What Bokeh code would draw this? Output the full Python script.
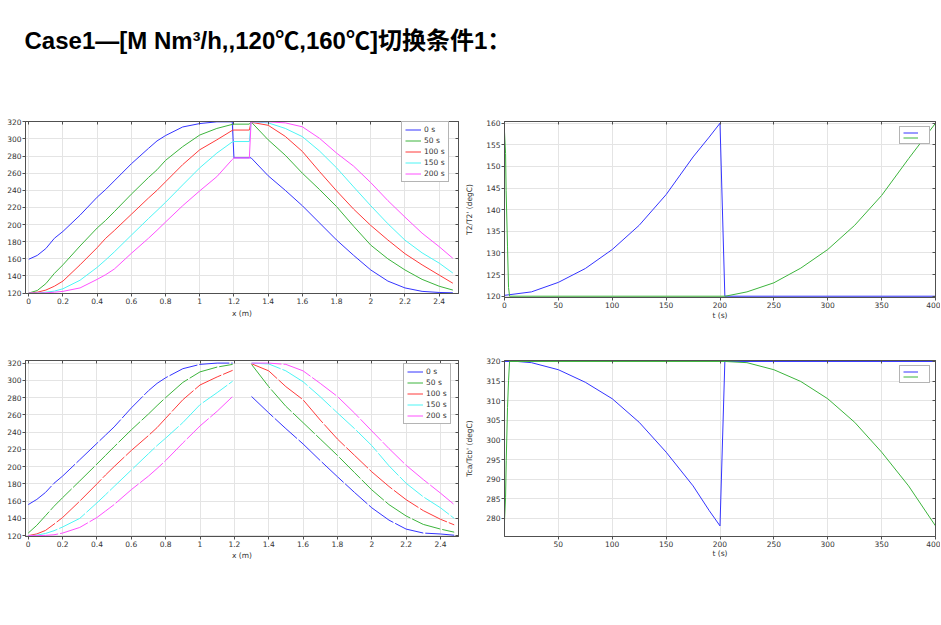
from bokeh.plotting import figure
from bokeh.models import Range1d, FixedTicker, PrintfTickFormatter, LinearAxis, Legend, LegendItem, Label
from bokeh.layouts import column, row
from bokeh.embed import file_html
from bokeh.resources import INLINE

TITLE = "Case1—[M Nm³/h,,120℃,160℃]切换条件1："

# ---------------- data ----------------
SERIES_LABELS = ["0 s", "50 s", "100 s", "150 s", "200 s"]

# top-left: T2/T2' along x (m)
X_TOP = [0, 0.05, 0.1, 0.15, 0.2, 0.3, 0.4, 0.45, 0.5, 0.6, 0.7, 0.75, 0.8, 0.9, 1.0, 1.1, 1.19,
         1.2, 1.29, 1.3, 1.4, 1.5, 1.6, 1.7, 1.8, 1.9, 2.0, 2.1, 2.2, 2.3, 2.4, 2.48]
T2_0 = [159.5, 164, 172, 184, 192, 211, 232, 241, 251, 271, 289, 297.7, 304, 314, 318, 320, 320,
        278, 278, 278, 257, 240, 222, 202, 182, 164, 147, 134, 126, 122, 120.7, 120.3]
T2_50 = [120, 123, 131, 143, 153, 175, 196, 205, 215, 235.5, 255, 264, 275, 291, 304.6, 312.3, 317,
         317.3, 317.3, 320, 299, 281, 260, 241, 221, 198, 176, 160, 147, 136, 128, 123.5]
T2_100 = [120, 121, 123.5, 128, 134, 153, 173, 184, 193, 212, 231, 240, 250, 270, 287.4, 299, 310,
          310.4, 310.4, 319.5, 316, 303, 285.4, 262, 239.4, 218, 199, 182, 166, 153, 141, 131.5]
T2_150 = [120, 120, 121, 122.3, 125, 135, 150, 158.8, 168, 187.6, 207, 216.4, 226, 246.3, 266.3, 283.5, 296.5,
          297, 297, 320, 318.8, 312.3, 302.7, 286, 266.3, 244, 222, 201, 181.8, 167, 155, 143.4]
T2_200 = [120, 120, 120.3, 121, 122, 126, 136, 141.5, 148, 166.4, 184, 193.3, 203, 222, 239.4, 256, 276,
          277.8, 277.8, 320, 320, 318.8, 314.2, 300.8, 283.5, 268.2, 249, 228, 208.7, 190, 174.2, 160.6]

# bottom-left: Tca/Tcb' along x (m), left and right sections
XB_L = [0, 0.05, 0.1, 0.15, 0.2, 0.3, 0.4, 0.45, 0.5, 0.6, 0.7, 0.75, 0.8, 0.9, 1.0, 1.1, 1.19]
XB_R = [1.3, 1.4, 1.5, 1.6, 1.7, 1.8, 1.9, 2.0, 2.1, 2.2, 2.3, 2.4, 2.48]
TC_0_L = [156, 162, 170, 180.7, 189, 208, 227, 236.5, 246, 268, 288, 296.5, 303, 313.5, 318.5, 320, 320]
TC_0_R = [281.3, 262.3, 244, 226.3, 207, 188.3, 170, 152.3, 138, 127.6, 123, 121.9, 120.5]
TC_50_L = [123, 132, 143, 154, 164, 183.4, 203, 213, 223, 242.6, 261, 270.7, 280, 297.6, 309.8, 315.4, 318.5]
TC_50_R = [318.5, 292.7, 269.9, 251, 232, 213, 193, 173.1, 156, 142.8, 133, 127.6, 124]
TC_100_L = [120, 122, 126, 133.3, 141, 160, 180, 190.3, 200, 218.7, 236, 245.2, 256, 277.5, 294.6, 304, 311.6]
TC_100_R = [319.2, 311, 292.7, 277.5, 254, 232, 213, 194, 177, 161.7, 149, 139, 132.5]
TC_150_L = [120, 120.5, 122.5, 125.7, 130, 140, 158, 167.4, 177, 196, 215, 224.4, 233, 251, 271.8, 285.8, 299]
TC_150_R = [320, 319, 311, 298.4, 281, 262.3, 244, 224.4, 201, 180.7, 165, 152.3, 140]
TC_200_L = [120, 120, 120.3, 121, 123, 129.5, 141, 148.5, 156, 173.3, 189, 197.8, 207, 227.4, 247.1, 264.2, 281.3]
TC_200_R = [320, 320, 318.5, 311, 296.5, 281.3, 262, 241.4, 221, 201.6, 185, 169.3, 156]

# top-right: T2 / T2' vs t (s)
T2_T = [0, 25, 50, 75, 100, 125, 150, 175, 190, 200, 204.5, 400]
T2_VALS = [120.2, 121, 123.2, 126.4, 130.8, 136.4, 143.5, 152.2, 156.8, 160, 120, 120]
T2P_T = [0, 1, 1.5, 2.8, 3.75, 4.7, 205, 225, 250, 275, 300, 325, 350, 375, 400]
T2P_VALS = [158, 153, 144.5, 131.4, 122, 120, 120, 121, 123.1, 126.5, 130.8, 136.4, 143.3, 151.8, 160]

# bottom-right: Tca / Tcb' vs t (s)
TCA_T = [0, 12, 25, 50, 75, 100, 125, 150, 175, 190, 200, 204.5, 400]
TCA_VALS = [320, 320, 319.7, 317.9, 314.7, 310.5, 304.5, 296.9, 288.3, 282, 278.1, 320, 320]
TCB_T = [0, 1, 1.6, 2.8, 3.75, 4.7, 205, 225, 250, 275, 300, 325, 350, 375, 400]
TCB_VALS = [279.4, 285.4, 294.7, 308.3, 315.1, 320, 320, 319.7, 317.9, 314.9, 310.5, 304.5, 296.9, 288.3, 278.1]

# ticks
X_TICKS = [0, 0.2, 0.4, 0.6, 0.8, 1, 1.2, 1.4, 1.6, 1.8, 2, 2.2, 2.4]
Y_TICKS_X = [120, 140, 160, 180, 200, 220, 240, 260, 280, 300, 320]
T_TICKS_TOP = [0, 50, 100, 150, 200, 250, 300, 350, 400]
T_TICKS_BOT = [50, 100, 150, 200, 250, 300, 350, 400]
Y_TICKS_T2 = [120, 125, 130, 135, 140, 145, 150, 155, 160]
Y_TICKS_TC = [280, 285, 290, 295, 300, 305, 310, 315, 320]

# ---------------- style ----------------
COLORS = ["#3434ff", "#3cb43c", "#ff3a3a", "#4df5f5", "#ff50ff"]
FONT = "DejaVu Sans"
AX = "#505050"
GRID = "#e4e4e4"
FS = "7.5px"


def make_fig(w, h, xr, yr, xticks, yticks, mb, xlabel=None, ylabel=None, xl_standoff=0, yl_standoff=5):
    p = figure(width=w, height=h, x_range=Range1d(*xr), y_range=Range1d(*yr),
               output_backend="svg", toolbar_location=None,
               min_border_left=mb[0], min_border_right=mb[1], min_border_top=mb[2], min_border_bottom=mb[3])
    p.outline_line_color = AX
    p.outline_line_width = 1
    xt = FixedTicker(ticks=xticks)
    yt = FixedTicker(ticks=yticks)
    p.xaxis.ticker = xt
    p.yaxis.ticker = yt
    p.xgrid.ticker = xt
    p.ygrid.ticker = yt
    for g in (p.xgrid, p.ygrid):
        g.grid_line_color = GRID
        g.grid_line_width = 1
    for ax in (p.xaxis, p.yaxis):
        ax.formatter = PrintfTickFormatter(format="%g")
        ax.major_label_text_font = FONT
        ax.major_label_text_font_size = FS
        ax.major_label_text_color = "#333333"
        ax.major_tick_out = 3
        ax.major_tick_in = 0
        ax.major_label_standoff = 1
        ax.minor_tick_line_color = None
        ax.axis_line_color = AX
        ax.major_tick_line_color = AX
        ax.axis_label_text_font = FONT
        ax.axis_label_text_font_size = FS
        ax.axis_label_text_font_style = "normal"
        ax.axis_label_text_color = "#333333"
    if xlabel:
        p.xaxis.axis_label = xlabel
        p.xaxis.axis_label_standoff = xl_standoff
    if ylabel:
        p.yaxis.axis_label = ylabel
        p.yaxis.axis_label_standoff = yl_standoff
    # inner ticks on right / top frame edges (no labels drawn)
    for tk, side in ((yticks, "right"), (xticks, "above")):
        a = LinearAxis(ticker=FixedTicker(ticks=tk), major_label_text_font_size="0px",
                       major_label_text_color=None, major_label_standoff=0,
                       major_tick_in=3, major_tick_out=0, minor_tick_line_color=None,
                       axis_line_color=AX, major_tick_line_color=AX)
        p.add_layout(a, side)
    return p


def add_legend(p, renderers, labels, loc, small=False):
    items = [LegendItem(label=lab, renderers=[r]) for lab, r in zip(labels, renderers)]
    if small:
        lg = Legend(items=items, location=loc, label_text_font_size="3px", label_text_color=None,
                    label_height=5, glyph_height=5, glyph_width=15, spacing=0, padding=3,
                    label_standoff=0, label_width=8, margin=0)
    else:
        lg = Legend(items=items, location=loc, label_text_font=FONT, label_text_font_size=FS,
                    label_text_color="#333333", label_height=9, glyph_height=9, glyph_width=16,
                    spacing=2, padding=3, label_standoff=3, margin=0)
    lg.border_line_color = "#6a6a6a"
    lg.border_line_width = 1.5
    lg.background_fill_color = "white"
    lg.background_fill_alpha = 1
    p.add_layout(lg)


# ---------------- title ----------------
pt = figure(width=940, height=110, output_backend="svg", toolbar_location=None,
            x_axis_type=None, y_axis_type=None, min_border=0)
pt.outline_line_color = None
pt.xgrid.visible = False
pt.ygrid.visible = False
pt.add_layout(Label(x=24, y=70, x_units="screen", y_units="screen", text=TITLE,
                    text_font="Liberation Sans, Noto Sans CJK SC", text_font_size="24px",
                    text_font_style="bold", text_color="black", text_baseline="alphabetic"))

# ---------------- top-left ----------------
p1 = make_fig(462, 210, (-0.019, 2.513), (119.5, 320.4), X_TICKS, Y_TICKS_X, (25, 4, 9, 26),
              xlabel="x (m)", xl_standoff=2)
r1 = []
for ys, c in zip([T2_0, T2_50, T2_100, T2_150, T2_200], COLORS):
    r1.append(p1.line(X_TOP, ys, line_color=c, line_width=1))
add_legend(p1, r1, SERIES_LABELS, (376, 111))

# ---------------- top-right ----------------
p2 = make_fig(478, 214, (0, 400), (119.7, 160.4), T_TICKS_TOP, Y_TICKS_T2, (42, 5, 11, 27),
              xlabel="t (s)", ylabel="T2/T2' (degC)", xl_standoff=0, yl_standoff=9)
ra = p2.line(T2_T, T2_VALS, line_color=COLORS[0], line_width=1)
rb = p2.line(T2P_T, T2P_VALS, line_color=COLORS[1], line_width=1)
add_legend(p2, [ra, rb], ["", ""], (395, 153), small=True)

# ---------------- bottom-left ----------------
p3 = make_fig(462, 240, (-0.016, 2.505), (119, 323), X_TICKS, Y_TICKS_X, (25, 4, 36, 24),
              xlabel="x (m)", xl_standoff=1)
r3 = []
nan = float("nan")
for yl, yr_, c in zip([TC_0_L, TC_50_L, TC_100_L, TC_150_L, TC_200_L],
                      [TC_0_R, TC_50_R, TC_100_R, TC_150_R, TC_200_R], COLORS):
    xs = XB_L + [nan] + XB_R
    ys = yl + [nan] + yr_
    r3.append(p3.line(xs, ys, line_color=c, line_width=1, line_dash="30 2"))
add_legend(p3, r3, SERIES_LABELS, (378, 112))

# ---------------- bottom-right ----------------
p4 = make_fig(478, 240, (0, 400), (275.4, 320.25), T_TICKS_BOT, Y_TICKS_TC, (42, 5, 36, 28),
              xlabel="t (s)", ylabel="Tca/Tcb' (degC)", xl_standoff=-1, yl_standoff=9)
rc = p4.line(TCA_T, TCA_VALS, line_color=COLORS[0], line_width=1)
rd = p4.line(TCB_T, TCB_VALS, line_color=COLORS[1], line_width=1)
add_legend(p4, [rc, rd], ["", ""], (395, 153), small=True)

layout = column(pt, row(p1, p2), row(p3, p4))

with open("out.html", "w") as f:
    f.write(file_html(layout, INLINE))
